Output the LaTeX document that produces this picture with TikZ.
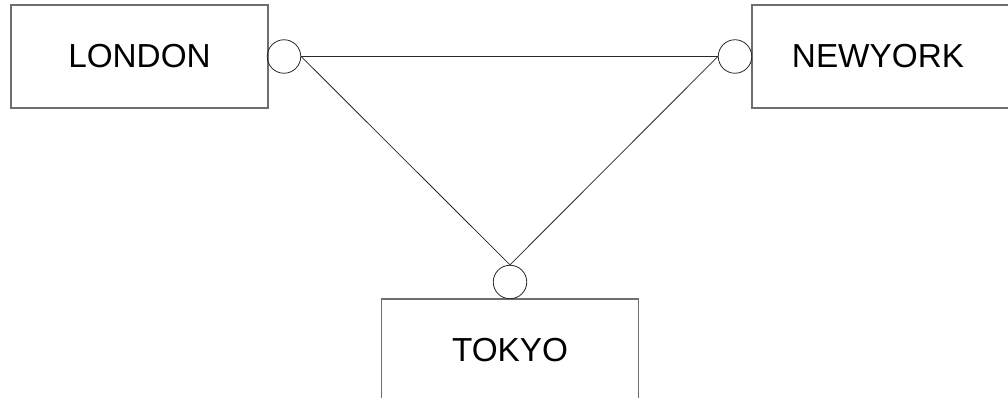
\documentclass[tikz,border=0pt]{standalone}
\usepackage{fontspec}
\setmainfont{Liberation Sans}
\begin{document}
\begin{tikzpicture}[x=1pt,y=-1pt,
  citybox/.style={draw={rgb,255:red,110;green,110;blue,110}, line width=1.2pt, rectangle, minimum width=257pt, minimum height=103pt, inner sep=0pt, font=\fontsize{33.3}{33.3}\selectfont},
  port/.style={draw={rgb,255:red,40;green,40;blue,40}, line width=0.8pt, circle, minimum size=33.5pt, inner sep=0pt},
  link/.style={draw={rgb,255:red,40;green,40;blue,40}, line width=0.8pt}]
\useasboundingbox (0,0) rectangle (1008,398);
\clip (0,0) rectangle (1008,398);
\node[citybox] (london) at (139.5,56.5) {LONDON};
\node[citybox, minimum width=300pt] (newyork) at (902,56.5) {\hspace*{-48pt}NEWYORK};
\node[citybox] (tokyo) at (510,350.5) {TOKYO};
\node[port] (lc) at (284,56.5) {};
\node[port] (nc) at (735,56.5) {};
\node[port] (tc) at (510,282) {};
\draw[link] (lc.east) -- (nc.west);
\draw[link] (lc.east) -- (tc.north);
\draw[link] (nc.west) -- (tc.north);
\end{tikzpicture}
\end{document}
